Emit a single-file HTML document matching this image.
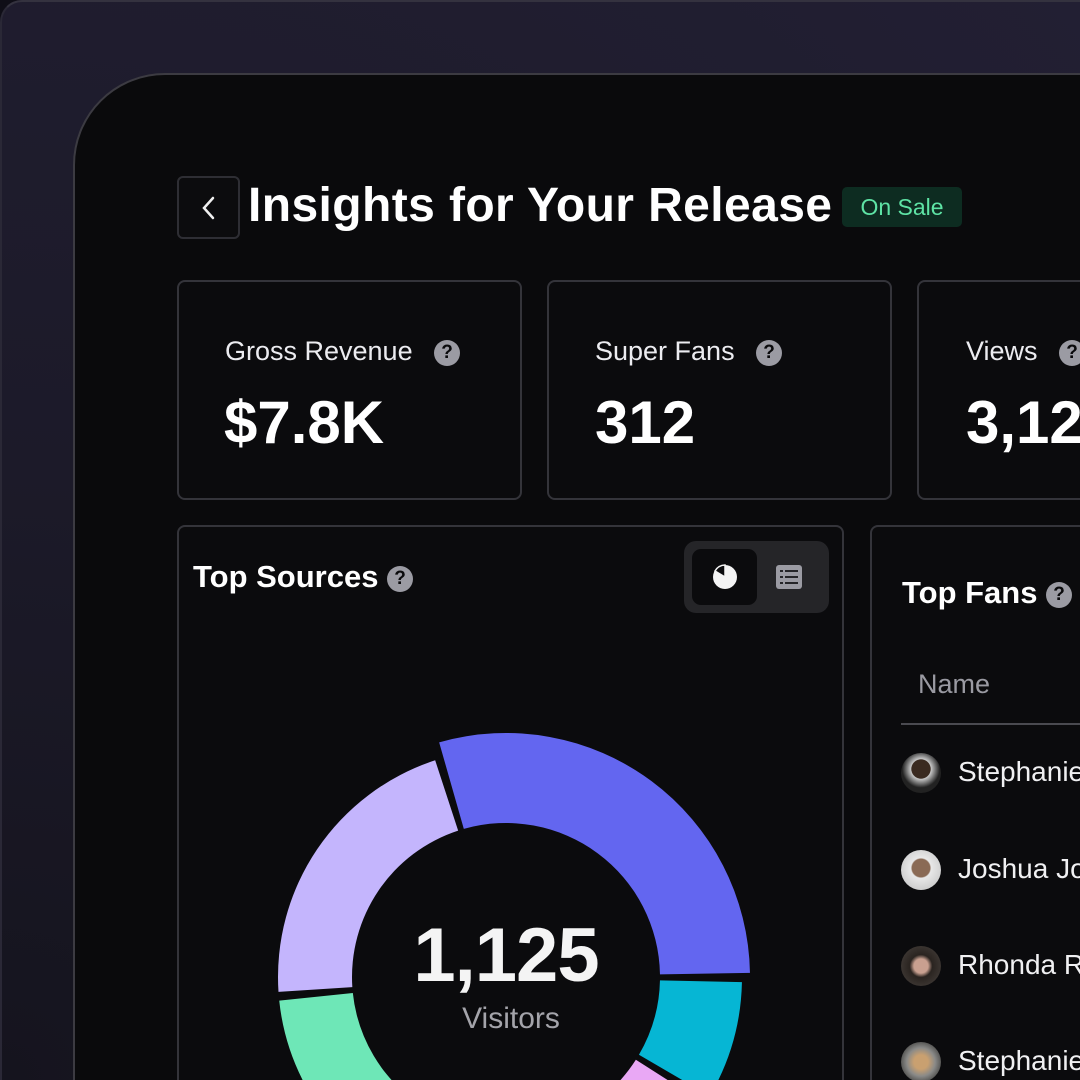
<!DOCTYPE html>
<html><head><meta charset="utf-8">
<style>
*{margin:0;padding:0;box-sizing:border-box}
html,body{width:1080px;height:1080px;overflow:hidden}
body{background:#0f0e17;font-family:"Liberation Sans",sans-serif}
#wrap{position:relative;width:1080px;height:1080px;overflow:hidden}
#bg{position:absolute;left:0;top:0;width:1080px;height:1080px;border-radius:22px 0 0 0;border-top:2px solid #34323f;border-left:2px solid #2a2836;background:radial-gradient(ellipse at 0% 100%,#15141e 0%,#1c1a29 40%,#221f33 100%)}
#panel{position:absolute;left:73px;top:73px;width:1100px;height:1100px;background:#0a0a0c;border:2px solid #3c3b42;border-radius:92px 0 0 0}
.abs{position:absolute;white-space:nowrap}
.card{position:absolute;border:2px solid #34343a;border-radius:8px;background:#0b0b0d}
.help{display:inline-block;width:26px;height:26px;border-radius:50%;background:#9b9ba3;color:#0a0a0c;font-weight:bold;font-size:19px;text-align:center;line-height:26px;vertical-align:middle}
.lbl{color:#ececf0;font-size:27px;position:absolute;white-space:nowrap}
.val{color:#fff;font-size:60px;font-weight:bold;position:absolute;white-space:nowrap}
.fan{position:absolute;left:958px;color:#f0f0f2;font-size:28px;white-space:nowrap}
.av{position:absolute;left:901px;width:40px;height:40px;border-radius:50%}
</style></head><body>
<div id="wrap">
<div id="bg"></div>
<div id="panel"></div>

<div class="abs" style="left:177px;top:176px;width:63px;height:63px;border:2px solid #2e2e34;border-radius:6px;background:#0c0c0e">
<svg width="59" height="59"><path d="M34 20 L25 30 L34 40" stroke="#f0f0f0" stroke-width="2.5" fill="none" stroke-linecap="round"/></svg></div>
<div class="abs" style="left:248px;top:178px;color:#fff;font-size:48px;font-weight:bold;letter-spacing:0.4px">Insights for Your Release</div>
<div class="abs" style="left:842px;top:187px;width:120px;height:40px;background:#0d2c21;border-radius:5px;color:#5ee3a5;font-size:23px;text-align:center;line-height:40px">On Sale</div>

<div class="card" style="left:177px;top:280px;width:345px;height:220px"></div>
<div class="card" style="left:547px;top:280px;width:345px;height:220px"></div>
<div class="card" style="left:917px;top:280px;width:300px;height:220px"></div>
<div class="lbl" style="left:225px;top:336px">Gross Revenue <span class="help" style="margin-left:14px">?</span></div>
<div class="val" style="left:224px;top:388px">$7.8K</div>
<div class="lbl" style="left:595px;top:336px">Super Fans <span class="help" style="margin-left:14px">?</span></div>
<div class="val" style="left:595px;top:388px">312</div>
<div class="lbl" style="left:966px;top:336px">Views <span class="help" style="margin-left:14px">?</span></div>
<div class="val" style="left:966px;top:388px">3,125</div>

<div class="card" style="left:177px;top:525px;width:667px;height:600px"></div>
<div class="abs" style="left:193px;top:559px;color:#fff;font-size:31px;font-weight:bold">Top Sources <span class="help">?</span></div>
<div class="abs" style="left:684px;top:541px;width:145px;height:72px;background:#252528;border-radius:12px"></div>
<div class="abs" style="left:692px;top:549px;width:65px;height:56px;background:#0b0b0d;border-radius:9px">
<svg width="65" height="56"><circle cx="33" cy="28" r="12" fill="#f4f4f4"/><path d="M33 28 L33 16 A12 12 0 0 0 23 22 Z" fill="#0b0b0d" stroke="#f4f4f4" stroke-width="1.5"/></svg></div>
<div class="abs" style="left:776px;top:565px">
<svg width="26" height="24"><rect x="0" y="0" width="26" height="24" rx="3" fill="#9b9ba3"/><g fill="#252528"><rect x="4" y="5" width="3" height="2"/><rect x="9" y="5" width="13" height="2"/><rect x="4" y="11" width="3" height="2"/><rect x="9" y="11" width="13" height="2"/><rect x="4" y="17" width="3" height="2"/><rect x="9" y="17" width="13" height="2"/></g></svg></div>

<svg class="abs" id="donut" style="left:0;top:0" width="1080" height="1080"></svg>
<div class="abs" style="left:406px;top:912px;width:200px;text-align:center;color:#f4f4f4;font-size:76px;font-weight:bold;letter-spacing:-1px">1,125</div>
<div class="abs" style="left:406px;top:1002px;width:210px;text-align:center;color:#a4a4aa;font-size:30px">Visitors</div>

<div class="card" style="left:870px;top:525px;width:300px;height:600px"></div>
<div class="abs" style="left:902px;top:575px;color:#fff;font-size:31px;font-weight:bold">Top Fans <span class="help">?</span></div>
<div class="abs" style="left:918px;top:669px;color:#9a9aa2;font-size:27px">Name</div>
<div class="abs" style="left:901px;top:723px;width:200px;height:2px;background:#4a4a50"></div>
<div class="av" style="top:753px;background:radial-gradient(circle at 50% 40%,#3a2a20 30%,#c8c8c8 32%,#222 60%)"></div>
<div class="fan" style="top:756px">Stephanie Sharkey</div>
<div class="av" style="top:850px;background:radial-gradient(circle at 50% 45%,#8a6a55 30%,#e8e8e8 34%,#d0d0d0 70%)"></div>
<div class="fan" style="top:853px">Joshua Jones</div>
<div class="av" style="top:946px;background:radial-gradient(circle at 50% 50%,#c9a090 25%,#2a2420 40%,#3a3430 70%)"></div>
<div class="fan" style="top:949px">Rhonda Rhodes</div>
<div class="av" style="top:1042px;background:radial-gradient(circle at 50% 50%,#c9a070 25%,#8a8a88 50%,#5a5a58 70%)"></div>
<div class="fan" style="top:1045px">Stephanie Nicol</div>
</div>
<script>
const sources = ["Direct","Social","Email","Search","Referral"];
const visitors = [322, 94, 226, 206, 234];
const colors = ["#6366f0","#06b6d4","#e9a8f5","#6ee7b7","#c4b5fd"];
const outerR = [244, 236, 232, 228, 228];
const cx = 506, cy = 977, innerR = 154, startDeg = -17, gapDeg = 2.2;
const svg = document.getElementById('donut');
const total = visitors.reduce((a,b)=>a+b,0);
function pt(r,deg){const a=(deg-90)*Math.PI/180;return [cx+r*Math.cos(a),cy+r*Math.sin(a)];}
let acc = startDeg;
visitors.forEach((v,i)=>{
  const span = v/total*360;
  const a0 = acc + gapDeg/2, a1 = acc + span - gapDeg/2;
  acc += span;
  const R = outerR[i];
  const [x0,y0]=pt(R,a0),[x1,y1]=pt(R,a1),[x2,y2]=pt(innerR,a1),[x3,y3]=pt(innerR,a0);
  const large = (a1-a0)>180?1:0;
  const p = document.createElementNS('http://www.w3.org/2000/svg','path');
  p.setAttribute('d',`M${x0} ${y0} A${R} ${R} 0 ${large} 1 ${x1} ${y1} L${x2} ${y2} A${innerR} ${innerR} 0 ${large} 0 ${x3} ${y3} Z`);
  p.setAttribute('fill',colors[i]);
  
  
  svg.appendChild(p);
});
</script>
</body></html>
